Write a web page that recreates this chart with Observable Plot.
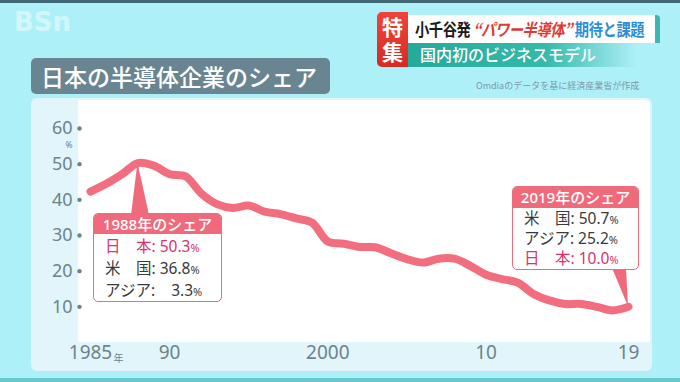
<!DOCTYPE html>
<html><head><meta charset="utf-8">
<script src="https://cdn.jsdelivr.net/npm/d3@7"></script>
<script src="https://cdn.jsdelivr.net/npm/@observablehq/plot@0.6"></script>
<style>
body{margin:0;}
#stage{position:relative;width:680px;height:382px;background:#aef0f8;overflow:hidden;font-family:"Noto Sans CJK JP","Noto Sans",sans-serif;}
.abs{position:absolute;}
.callout{position:absolute;background:#fff;border:1.5px solid #ee6b7b;border-radius:5px;overflow:hidden;box-sizing:border-box;font-family:"Noto Sans","Noto Sans CJK JP",sans-serif;}
.callout .hd{background:#ef6b7c;color:#fff;font-size:15px;text-align:center;font-weight:500;}
.callout .row{font-size:15.5px;color:#3a3a3a;padding-left:11px;white-space:pre;}
.callout .row .pc{font-size:11px;}
.callout .row.jp{color:#d8336e;}
.ptr{position:absolute;background:#ef6b7c;}
.toku{position:absolute;left:379px;width:27px;font-size:21px;line-height:24px;height:24px;color:#fff;font-weight:700;text-align:center;}
</style></head>
<body>
<div id="stage">
  <div class="abs" style="left:0;top:0;width:680px;height:3px;background:#3f6672"></div>
  <div class="abs" style="left:0;top:378px;width:680px;height:4px;background:#62c9cc"></div>
  <div class="abs" style="left:14px;top:7px;font-size:26px;font-weight:700;color:#fff;opacity:0.45;font-family:'DejaVu Sans',sans-serif;">BSn</div>

  <!-- banner -->
  <div class="abs" style="left:407px;top:42px;width:230px;height:25px;background:linear-gradient(90deg,#24a99b 0%,#35b9ab 60%,rgba(60,200,190,0) 100%)"></div>
  <div class="abs" style="left:420px;top:43px;font-size:16px;line-height:23px;color:#fff;font-weight:500;">国内初のビジネスモデル</div>
  <div class="abs" style="left:407px;top:15px;width:253px;height:28px;background:#fff;border-right:5px solid #39b7b0;border-radius:0 4px 0 0;box-sizing:border-box;"></div>
  <div class="abs" style="left:415px;top:15px;font-size:17px;line-height:28px;font-weight:700;white-space:nowrap;letter-spacing:-0.5px;transform:scaleX(0.84);transform-origin:left center;"><span style="color:#1a1a1a">小千谷発</span> <span style="color:#e03a35;font-style:italic">“パワー半導体”</span> <span style="color:#2c8fd6">期待と課題</span></div>
  <div class="abs" style="left:377px;top:12px;width:31px;height:55px;background:linear-gradient(180deg,#f0443a,#d62a26);border-radius:5px 0 0 5px;"></div>
  <div class="toku" style="top:14px;">特</div>
  <div class="toku" style="top:39px;">集</div>

  <!-- card -->
  <div class="abs" style="left:31px;top:98px;width:621px;height:273px;background:#e2f5fb;border-radius:6px;"></div>
  <div class="abs" style="left:78px;top:100px;width:572px;height:242px;background:#ffffff;border-radius:0 5px 0 0;"></div>

  <!-- title -->
  <div class="abs" style="left:31px;top:58px;width:299px;height:36px;background:#6a8592;border-radius:5px;"></div>
  <div class="abs" style="left:41px;top:58px;font-size:23px;line-height:36px;color:#fff;font-weight:500;white-space:nowrap;">日本の半導体企業のシェア</div>
  <div class="abs" style="left:476px;top:80px;font-size:9px;line-height:12px;color:#7d9aa3;white-space:nowrap;">Omdiaのデータを基に経済産業省が作成</div>

  <div id="chart" class="abs" style="left:0;top:0;width:680px;height:382px;"></div>
</div>
<script>
const years = [1985,1986,1987,1988,1989,1990,1991,1992,1993,1994,1995,1996,1997,1998,1999,2000,2001,2002,2003,2004,2005,2006,2007,2008,2009,2010,2011,2012,2013,2014,2015,2016,2017,2018,2019];
const japanShare = [42.3,44.5,47.2,50.3,49.6,47.2,46.6,41.8,38.8,37.7,38.4,36.7,36.0,34.8,33.6,28.3,27.7,26.8,26.7,25.0,23.4,22.4,23.5,23.5,21.5,19.0,17.8,16.8,13.6,11.8,10.8,10.8,10.0,9.0,10.0];
const yTicks = [10,20,30,40,50,60];
const xTicks = [1985,1990,2000,2010,2019];
const xTickLabels = ["1985","90","2000","10","19"];
const callout1988 = {year:1988, title:"1988年のシェア", rows:[["日　本",": 50.3"],["米　国",": 36.8"],["アジア",":    3.3"]], jpRow:0};
const callout2019 = {year:2019, title:"2019年のシェア", rows:[["米　国",": 50.7"],["アジア",": 25.2"],["日　本",": 10.0"]], jpRow:2};

const data = years.map((y,i)=>({year:y, share:japanShare[i]}));
const gray = "#6d838c";

const chart = Plot.plot({
  width:680, height:382,
  marginLeft:90, marginRight:52, marginTop:128, marginBottom:40,
  style:{background:"transparent", fontFamily:"'Noto Sans', 'Noto Sans CJK JP', sans-serif", overflow:"visible", maxWidth:"none"},
  x:{domain:[1985,2019], axis:null},
  y:{domain:[0,60], axis:null},
  marks:[
    Plot.text(yTicks, {y:d=>d, frameAnchor:"left", dx:-18, textAnchor:"end", text:d=>String(d), fontSize:18, fill:gray}),
    Plot.dot(yTicks, {y:d=>d, frameAnchor:"left", dx:-11, r:2.2, fill:gray}),
    Plot.text(["%"], {y:()=>60, frameAnchor:"left", dx:-25, dy:17, text:d=>d, fontSize:8.5, fill:gray}),
    Plot.text(xTicks, {x:d=>d, frameAnchor:"bottom", dy:16, text:(d,i)=>xTickLabels[i], fontSize:19, fill:gray}),
    Plot.text(["年"], {x:()=>1985, frameAnchor:"bottom", dx:28, dy:19, text:d=>d, fontSize:10, fill:gray}),
    Plot.line(data, {x:"year", y:"share", stroke:"#f26e7e", strokeWidth:8, curve:"catmull-rom", strokeLinejoin:"round", strokeLinecap:"round"})
  ]
});
chart.style.position="absolute";
chart.style.left="0px"; chart.style.top="0px";
document.getElementById("chart").appendChild(chart);

const sx = chart.scale("x"), sy = chart.scale("y");
const stage = document.getElementById("stage");
function addCallout(c, box, ptr){
  const px = sx.apply(c.year), py = sy.apply(japanShare[years.indexOf(c.year)]);
  const p = document.createElement("div");
  p.className="ptr";
  const minX = Math.min(px, ptr.b1, ptr.b2)-2, maxX = Math.max(px, ptr.b1, ptr.b2)+2;
  const top = Math.min(py, ptr.by), bot = Math.max(py, ptr.by);
  p.style.left=minX+"px"; p.style.top=top+"px"; p.style.width=(maxX-minX)+"px"; p.style.height=(bot-top)+"px";
  p.style.clipPath=`polygon(${px-minX}px ${py-top}px, ${ptr.b1-minX}px ${ptr.by-top}px, ${ptr.b2-minX}px ${ptr.by-top}px)`;
  stage.appendChild(p);
  const d = document.createElement("div");
  d.className="callout";
  d.style.left=box.x+"px"; d.style.top=box.y+"px"; d.style.width=box.w+"px"; d.style.height=box.h+"px";
  let html = `<div class="hd" style="line-height:${box.hh}px">${c.title}</div><div style="padding-top:${box.pad}px">`;
  c.rows.forEach((r,i)=>{
    html += `<div class="row${i===c.jpRow?" jp":""}" style="line-height:${box.lh}px">${r[0]}${r[1]}<span class="pc">%</span></div>`;
  });
  html += "</div>";
  d.innerHTML = html;
  stage.appendChild(d);
}
addCallout(callout1988, {x:93,y:213,w:129,h:89,hh:20,lh:21,pad:2}, {b1:131,b2:149,by:215});
addCallout(callout2019, {x:512,y:186,w:127,h:84,hh:21,lh:19,pad:1}, {b1:612,b2:626,by:268});
</script>
</body></html>
